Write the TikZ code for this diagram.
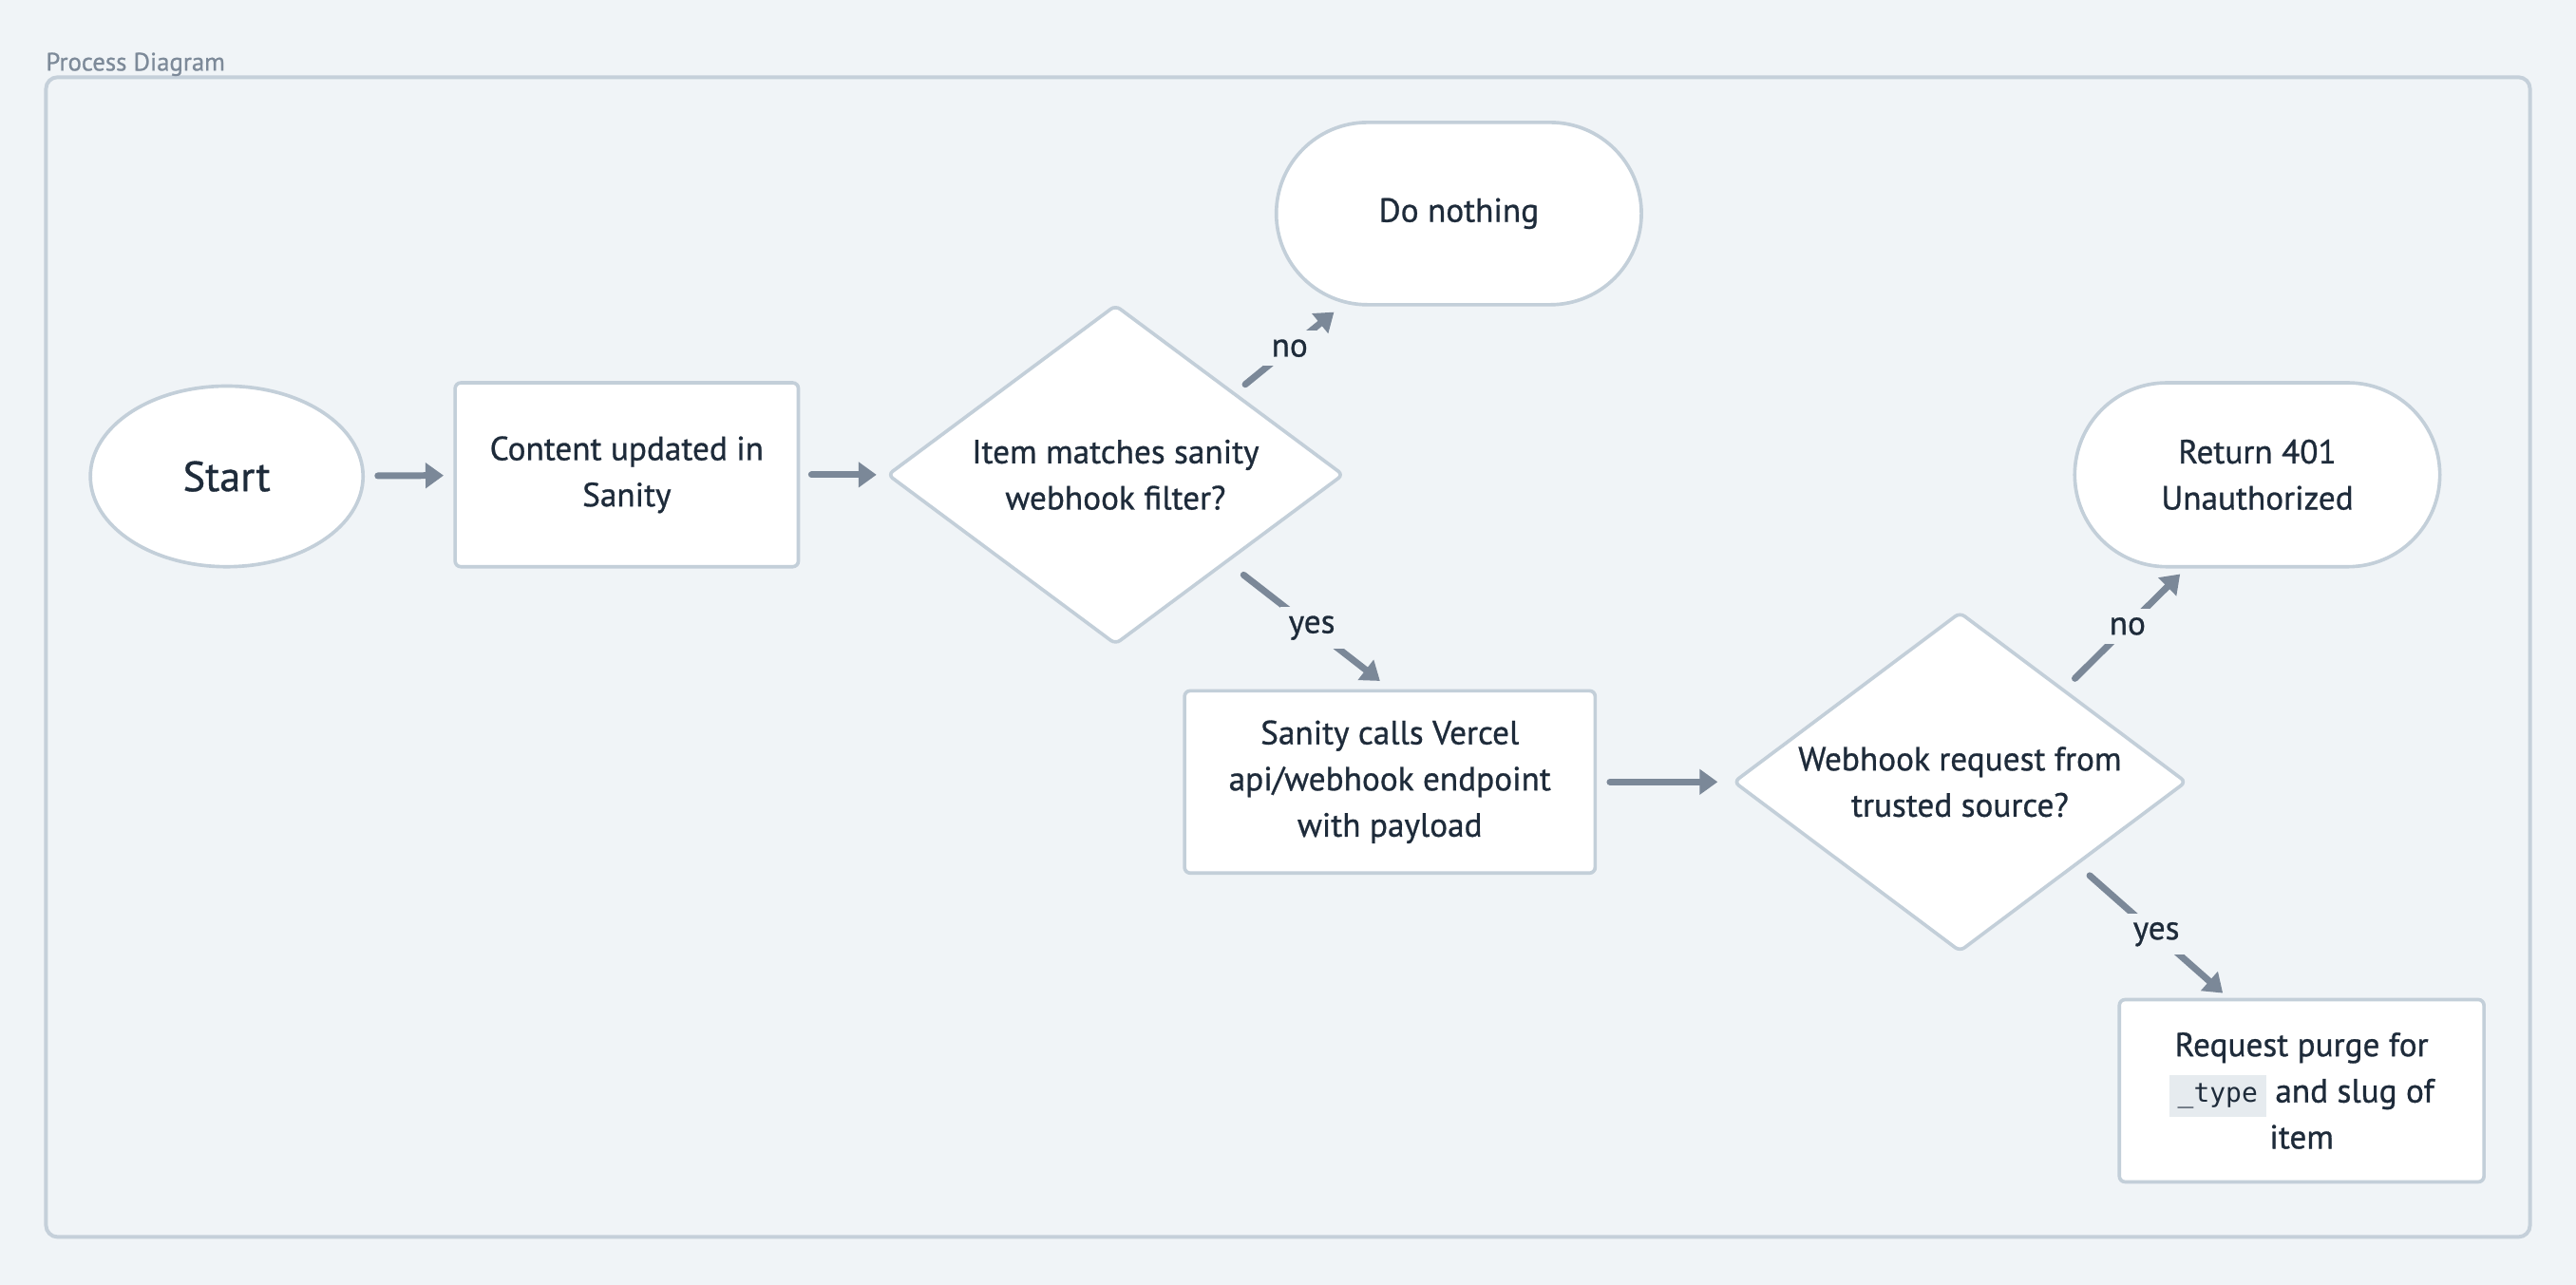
\documentclass[tikz,border=0pt]{standalone}
\usepackage{fontspec}
\setmainfont{PT Sans}[UprightFeatures={FakeBold=0.8}]
\setmonofont{DejaVu Sans Mono}
\usepackage{tikz}
\usetikzlibrary{positioning, shapes.geometric, shapes.misc, arrows.meta}

\definecolor{canvas}{HTML}{F0F4F7}
\definecolor{framec}{HTML}{C5D0DA}
\definecolor{edge}{HTML}{C3CFD9}
\definecolor{arrowc}{HTML}{7B8898}
\definecolor{ink}{HTML}{1E2B3A}
\definecolor{labelc}{HTML}{7D8A99}
\definecolor{codebg}{HTML}{E6EBEF}

\newcommand{\inlinecode}[1]{{\setlength{\fboxsep}{3pt}\colorbox{codebg}{\ttfamily\fontsize{9.2}{10}\selectfont #1}}}

\begin{document}
\begin{tikzpicture}[
		x=0.02cm, y=-0.02cm,
		every node/.style={text=ink, outer sep=0pt, font=\fontsize{11.6}{16}\selectfont},
		box/.style={draw=edge, fill=white, line width=1.2pt, rounded corners=2pt,
			minimum width=4.44cm, minimum height=2.22cm, align=center},
		term/.style={rounded rectangle, draw=edge, fill=white, line width=1.2pt,
			minimum width=4.68cm, minimum height=2.22cm, align=center},
		decision/.style={diamond, draw=edge, fill=white, line width=1.2pt, rounded corners=2pt,
			minimum width=5.54cm, minimum height=4.12cm, aspect=1.34, inner sep=1pt, align=center},
		flow/.style={draw=arrowc, line width=2.3pt, line cap=round,
			-{Triangle[length=0.22cm,width=0.3cm]}},
		lbl/.style={fill=canvas, inner sep=3pt}]
		\useasboundingbox (0,0) rectangle (1568,782);
		\fill[canvas] (0,0) rectangle (1568,782);
		\draw[framec, line width=1.3pt, rounded corners=4pt] (28,47) rectangle (1540,753);
		\node[anchor=base west, inner sep=0pt, text=labelc, font=\fontsize{8.8}{10}\selectfont] (title) at (28,43) {Process Diagram};

		\node[ellipse, draw=edge, fill=white, line width=1.2pt, minimum width=3.32cm, minimum height=2.2cm,
			font=\fontsize{14.6}{16}\selectfont] (start) at (138,290) {Start};
		\node[box, minimum width=4.18cm, minimum height=2.24cm] (content) at (381.5,289) {Content updated in\\Sanity};
		\node[decision] (match) at (679,289) {Item matches sanity\\webhook filter?};
		\node[term] (nothing) at (888,130) {Do nothing};
		\node[box, minimum width=5cm] (call) at (846,476) {Sanity calls Vercel\\api/webhook endpoint\\with payload};
		\node[decision, minimum width=5.5cm] (trusted) at (1193,476) {Webhook request from\\trusted source?};
		\node[term, minimum height=2.24cm] (deny) at (1374,289) {Return 401\\Unauthorized};
		\node[box] (purge) at (1401,664) {Request purge for\\\inlinecode{\_type} and slug of\\item};

		\draw[flow, shorten <=0.18cm, shorten >=0.14cm] (start) -- (content);
		\draw[flow, shorten <=0.16cm, shorten >=0.14cm] (content) -- (match);
		\draw[flow] ([shift={(9.75,-3.5)}]match.north east) -- node[lbl] {no} ([shift={(-76,4.5)}]nothing.south);
		\draw[flow] ([shift={(8.75,9.5)}]match.south east) -- node[lbl] {yes} ([shift={(-6,-6)}]call.north);
		\draw[flow, shorten <=0.18cm, shorten >=0.2cm] (call) -- (trusted);
		\draw[flow] ([shift={(1.25,-11.5)}]trusted.north east) -- node[lbl] {no} ([shift={(-47,4.5)}]deny.south);
		\draw[flow] ([shift={(10.25,5.5)}]trusted.south east) -- node[lbl] {yes} ([shift={(-48,-4)}]purge.north);

\end{tikzpicture}
\end{document}
